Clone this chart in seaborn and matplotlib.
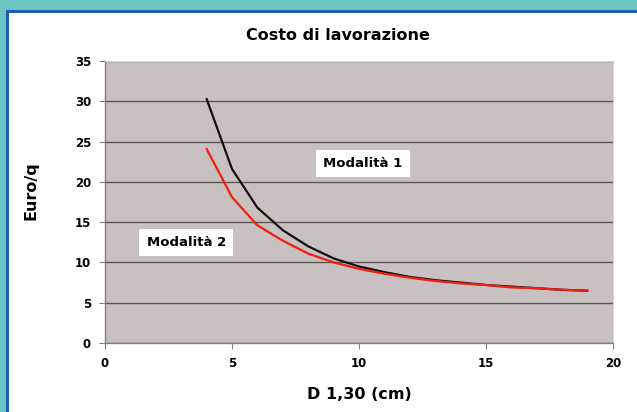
import matplotlib
matplotlib.use("Agg")
import matplotlib.pyplot as plt
from matplotlib.patches import Rectangle
import seaborn as sns
import pandas as pd

# Diameter classes (cm) and processing cost (Euro/q) for the two methods
diametri = [4, 5, 6, 7, 8, 9, 10, 11, 12, 13, 14, 15, 16, 17, 18, 19]
modalita_1 = [30.3, 21.6, 16.8, 14.0, 12.0, 10.5, 9.5, 8.8, 8.2, 7.8, 7.5, 7.2, 7.0, 6.8, 6.6, 6.5]
modalita_2 = [24.1, 18.1, 14.6, 12.7, 11.1, 10.0, 9.2, 8.6, 8.1, 7.7, 7.4, 7.2, 6.9, 6.8, 6.6, 6.5]
serie = ["Modalità 1", "Modalità 2"]
x_ticks = [0, 5, 10, 15, 20]
y_ticks = [0, 5, 10, 15, 20, 25, 30, 35]

df = pd.DataFrame({
    "D": diametri * 2,
    "Costo": modalita_1 + modalita_2,
    "Serie": [serie[0]] * len(diametri) + [serie[1]] * len(diametri),
})

sns.set_theme(style="white")
plt.rcParams["font.family"] = ["DejaVu Sans"]
plt.rcParams["text.color"] = "black"
plt.rcParams["axes.labelcolor"] = "black"
plt.rcParams["xtick.color"] = "black"
plt.rcParams["ytick.color"] = "black"

fig = plt.figure(figsize=(6.37, 4.12), dpi=100)
fig.patch.set_facecolor("white")

# decorative frame: teal band with a blue edge on top and left
fig.add_artist(Rectangle((0, 1 - 10 / 412), 1, 10 / 412, transform=fig.transFigure,
                         facecolor="#6cc4c2", edgecolor="none", zorder=0))
fig.add_artist(Rectangle((0, 0), 6 / 637, 1, transform=fig.transFigure,
                         facecolor="#6cc4c2", edgecolor="none", zorder=0))
fig.add_artist(Rectangle((6 / 637, 1 - 12.5 / 412), 1 - 6 / 637, 2.5 / 412,
                         transform=fig.transFigure, facecolor="#1a5fb4",
                         edgecolor="none", zorder=1))
fig.add_artist(Rectangle((6 / 637, 0), 2.5 / 637, 1 - 10 / 412,
                         transform=fig.transFigure, facecolor="#1a5fb4",
                         edgecolor="none", zorder=1))

ax = fig.add_axes([105 / 637, 69 / 412, 508 / 637, 282 / 412])
ax.set_facecolor("#c9c1c1")

sns.lineplot(data=df, x="D", y="Costo", hue="Serie",
             palette={serie[0]: "#101010", serie[1]: "#f0200c"},
             linewidth=1.6, legend=False, ax=ax, zorder=3)

ax.set_xlim(0, 20)
ax.set_ylim(0, 35)
ax.set_xticks(x_ticks)
ax.set_yticks(y_ticks)
ax.set_xticklabels([str(t) for t in x_ticks], fontweight="bold", fontsize=8.5)
ax.set_yticklabels([str(t) for t in y_ticks], fontweight="bold", fontsize=8.5)
ax.yaxis.grid(True, color="#5c5656", linewidth=1.0)
ax.xaxis.grid(False)
ax.set_axisbelow(True)
ax.tick_params(axis="both", which="both", direction="out", length=4, width=0.8,
               color="#808080", labelcolor="black", bottom=True, left=True, pad=6)

for side in ["left", "bottom"]:
    ax.spines[side].set_color("#808080")
    ax.spines[side].set_linewidth(1.0)
for side in ["top", "right"]:
    ax.spines[side].set_color("#dcd8d8")
    ax.spines[side].set_linewidth(0.8)

ax.set_xlabel("D 1,30 (cm)", fontweight="bold", fontsize=11.5, labelpad=12)
ax.set_ylabel("Euro/q", fontweight="bold", fontsize=11.5)
ax.yaxis.set_label_coords(-0.13, 0.54)

fig.text(338 / 637, 1 - 35 / 412, "Costo di lavorazione", ha="center", va="center",
         fontweight="bold", fontsize=11.5, color="black")

box = dict(boxstyle="square,pad=0.55", facecolor="white", edgecolor="none")
ax.text(10.15, 22.3, serie[0], ha="center", va="center", fontweight="bold",
        fontsize=9.5, color="black", bbox=box, zorder=5)
ax.text(3.2, 12.5, serie[1], ha="center", va="center", fontweight="bold",
        fontsize=9.5, color="black", bbox=box, zorder=5)

fig.savefig("out.png", dpi=100, facecolor=fig.get_facecolor())
